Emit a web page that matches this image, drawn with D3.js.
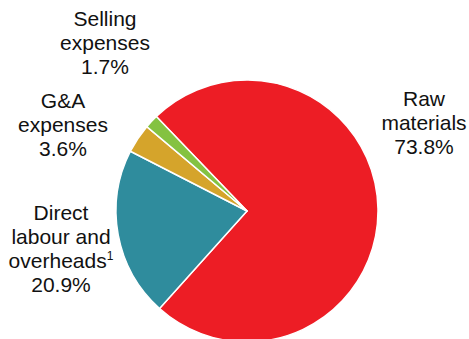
<!DOCTYPE html>
<html>
<head>
<meta charset="utf-8">
<script src="https://cdn.jsdelivr.net/npm/d3@7"></script>
<style>
  html, body { margin: 0; padding: 0; background: #fff; }
  svg { display: block; }
  text { font-family: "Liberation Sans", Arial, sans-serif; fill: #111; }
</style>
</head>
<body>
<svg id="chart" width="469" height="339"></svg>
<script>
// Cost breakdown (% of total)
const categories = ["Raw materials", "Direct labour and overheads", "G&A expenses", "Selling expenses"];
const values = [73.8, 20.9, 3.6, 1.7];
const colors = ["#ED1D25", "#2F8C9D", "#D5A42B", "#84C241"];

// Label lines per slice; "^1" marks a footnote superscript
const labelLines = [
  ["Raw", "materials", "73.8%"],
  ["Direct", "labour and", "overheads^1", "20.9%"],
  ["G&A", "expenses", "3.6%"],
  ["Selling", "expenses", "1.7%"]
];

const W = 469, H = 339;
const cx = 247, cy = 211, radius = 131;
const startAngle = -43.8 * Math.PI / 180;

const svg = d3.select("#chart");
const g = svg.append("g").attr("transform", `translate(${cx},${cy})`);

const pie = d3.pie()
  .sort(null)
  .value(d => d)
  .startAngle(startAngle)
  .endAngle(startAngle + 2 * Math.PI);

const arc = d3.arc().innerRadius(0).outerRadius(radius);

g.selectAll("path.slice")
  .data(pie(values))
  .join("path")
  .attr("class", "slice")
  .attr("d", arc)
  .attr("fill", (d, i) => colors[i])
  .attr("stroke", "#fff")
  .attr("stroke-width", 1.5)
  .attr("stroke-linejoin", "round");

// Label block anchors: centre x and first baseline
const labelPos = [
  { x: 424, y: 106 },
  { x: 61, y: 220 },
  { x: 63, y: 108 },
  { x: 105, y: 26 }
];
const lineGap = 24;
const fontSize = 21;

labelLines.forEach((lines, i) => {
  const p = labelPos[i];
  lines.forEach((ln, j) => {
    const t = svg.append("text")
      .attr("x", p.x)
      .attr("y", p.y + j * lineGap)
      .attr("text-anchor", "middle")
      .attr("font-size", fontSize)
      .attr("data-category", categories[i]);
    if (ln.includes("^")) {
      const [main, sup] = ln.split("^");
      t.append("tspan").text(main);
      t.append("tspan")
        .attr("font-size", 12)
        .attr("dy", -8)
        .text(sup);
    } else {
      t.text(ln);
    }
  });
});
</script>
</body>
</html>
